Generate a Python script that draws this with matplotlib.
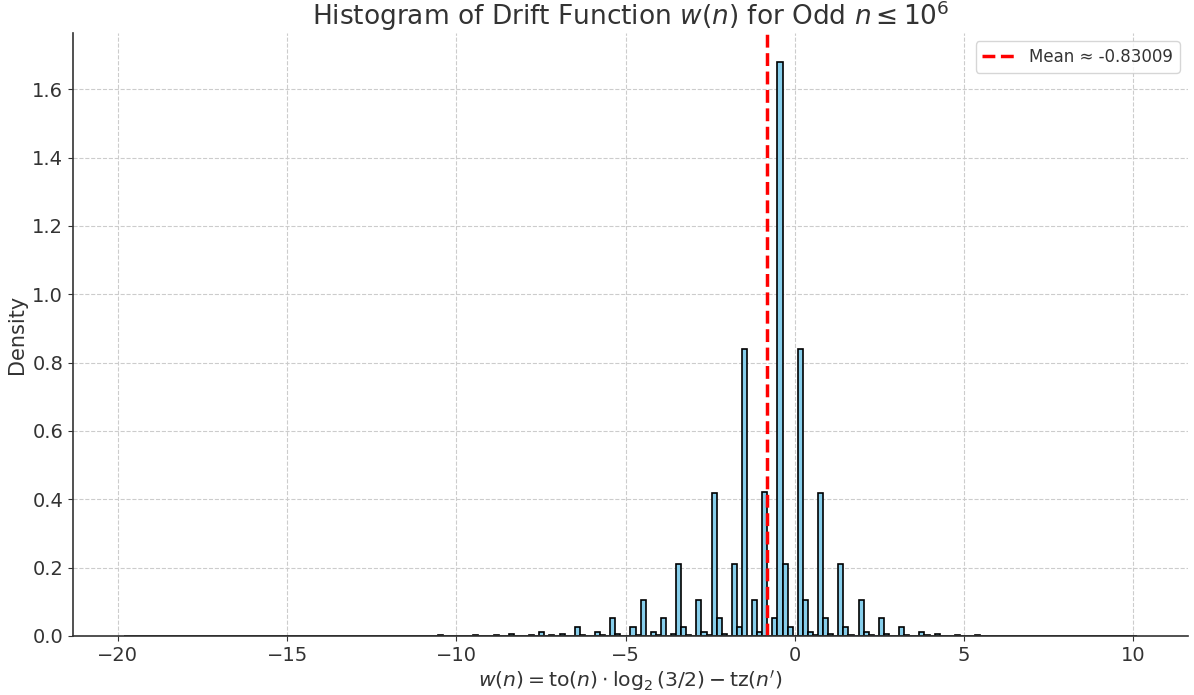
import matplotlib
matplotlib.use("Agg")
import matplotlib.pyplot as plt
import numpy as np

# Observed drift values w(n) (distinct levels) and the share of odd n at each level
drift_values = [
    # to(n) = 1
    -0.415, -1.415, -2.415, -3.415, -4.415, -5.415, -6.415, -7.415, -8.415, -9.415,
    -10.415, -11.415, -12.415, -13.415,
    # to(n) = 2
    0.170, -0.830, -1.830, -2.830, -3.830, -4.830, -5.830, -6.830, -7.830, -8.830,
    -9.830, -10.830, -11.830, -19.830,
    # to(n) = 3
    0.755, -0.245, -1.245, -2.245, -3.245, -4.245, -5.245, -6.245, -7.245,
    # to(n) = 4
    1.340, 0.340, -0.660, -1.660, -2.660, -3.660, -4.660, -5.660,
    # to(n) = 5
    1.925, 0.925, -0.075, -1.075, -2.075, -3.075, -4.075,
    # to(n) = 6
    2.510, 1.510, 0.510, -0.490, -1.490, -2.490,
    # to(n) = 7
    3.095, 2.095, 1.095, 0.095, -0.905,
    # to(n) = 8
    3.680, 2.680, 1.680, 0.680,
    # to(n) = 9
    4.265, 3.265, 2.265,
    # to(n) = 10
    4.850, 3.850,
    # to(n) = 11..14, 19
    5.435, 6.020, 6.605, 7.189, 10.114,
]
value_share = [
    0.25, 0.125, 0.0625, 0.03125, 0.015625, 0.0078125, 0.0039, 0.00195, 0.00098, 0.00049,
    0.00024, 0.00012, 0.00006, 0.00003,
    0.125, 0.0625, 0.03125, 0.015625, 0.0078125, 0.0039, 0.00195, 0.00098, 0.00049, 0.00024,
    0.00012, 0.00006, 0.00003, 0.0000002,
    0.0625, 0.03125, 0.015625, 0.0078125, 0.0039, 0.00195, 0.00098, 0.00049, 0.00024,
    0.03125, 0.015625, 0.0078125, 0.0039, 0.00195, 0.00098, 0.00049, 0.00024,
    0.015625, 0.0078125, 0.0039, 0.00195, 0.00098, 0.00049, 0.00024,
    0.0078125, 0.0039, 0.00195, 0.00098, 0.00049, 0.00024,
    0.0039, 0.00195, 0.00098, 0.00049, 0.00024,
    0.00195, 0.00098, 0.00049, 0.00024,
    0.00098, 0.00049, 0.00024,
    0.00049, 0.00024,
    0.00024, 0.00012, 0.00006, 0.00003, 0.000001,
]
mean_value = -0.83009
n_bins = 200

title_text = r"Histogram of Drift Function $w(n)$ for Odd $n \leq 10^6$"
xlabel_text = r"$w(n) = \mathrm{to}(n) \cdot \log_2{(3/2)} - \mathrm{tz}(n')$"
ylabel_text = "Density"
legend_text = f"Mean ≈ {mean_value:.5f}"

text_color = "#333333"
plt.rcParams["font.family"] = ["DejaVu Sans"]

fig = plt.figure(figsize=(11.94, 6.95), dpi=100)
ax = fig.add_axes([0.0611, 0.0849, 0.9339, 0.8676])

ax.hist(drift_values, bins=n_bins, weights=value_share, density=True,
        color="skyblue", edgecolor="black", linewidth=1.2)
ax.axvline(mean_value, color="red", linestyle="--", linewidth=2.5, label=legend_text)

ax.set_title(title_text, fontsize=19, color=text_color, pad=4)
ax.set_xlabel(xlabel_text, fontsize=14.7, color=text_color, labelpad=3)
ax.set_ylabel(ylabel_text, fontsize=15, color=text_color)
ax.tick_params(axis="both", labelsize=14, labelcolor=text_color, color=text_color)
ax.set_xticks([-20, -15, -10, -5, 0, 5, 10])
ax.grid(True, linestyle="--", color="#cccccc", linewidth=0.8)
ax.set_axisbelow(True)
for side in ("top", "right"):
    ax.spines[side].set_visible(False)
for side in ("left", "bottom"):
    ax.spines[side].set_color(text_color)
    ax.spines[side].set_linewidth(1.2)

leg = ax.legend(loc="upper right", fontsize=12, labelcolor=text_color)

fig.savefig("out.png", dpi=100)
